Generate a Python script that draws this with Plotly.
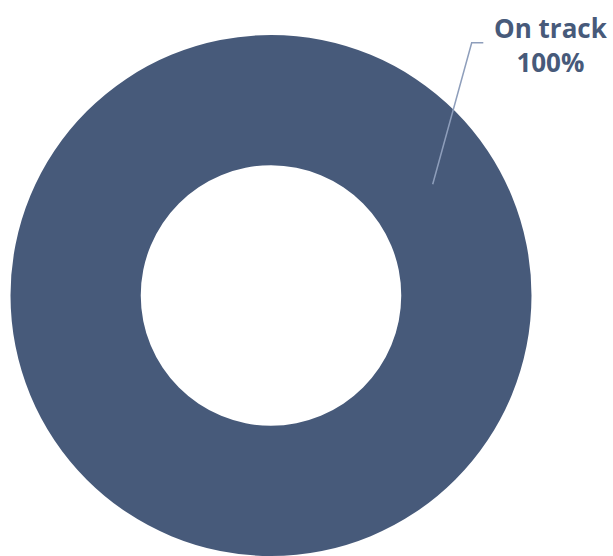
import plotly.graph_objects as go

labels = ["On track"]
values = [100]
colors = ["#475A7A"]

W, H = 613, 556
ML, MR, MT, MB = 9, 80, 35, 0
PW, PH = W - ML - MR, H - MT - MB

def px(x):
    return (x - ML) / PW

def py(y):
    return (H - MB - y) / PH

total = sum(values)
pct = [v / total * 100 for v in values]

fig = go.Figure(go.Pie(
    labels=labels, values=values, hole=0.5, sort=False,
    marker=dict(colors=colors, line=dict(width=0)),
    textinfo="none", hoverinfo="label+percent", showlegend=False,
))

fig.add_annotation(
    x=px(551), y=py(45), xref="paper", yref="paper",
    text=f"<b>{labels[0]}</b><br><b>{pct[0]:.0f}%</b>",
    showarrow=False, xanchor="center", yanchor="middle",
    font=dict(family="Open Sans", size=26, color="#475A7A"),
)

fig.add_shape(
    type="path", xref="paper", yref="paper",
    path=f"M {px(432.7)} {py(184.3)} L {px(471.7)} {py(42.7)} L {px(483.3)} {py(42.7)}",
    line=dict(color="#8E9EBB", width=1.5),
)

fig.update_layout(
    width=W, height=H,
    margin=dict(l=ML, r=MR, t=MT, b=MB),
    paper_bgcolor="white", plot_bgcolor="white",
)

fig.write_html("out.html")
